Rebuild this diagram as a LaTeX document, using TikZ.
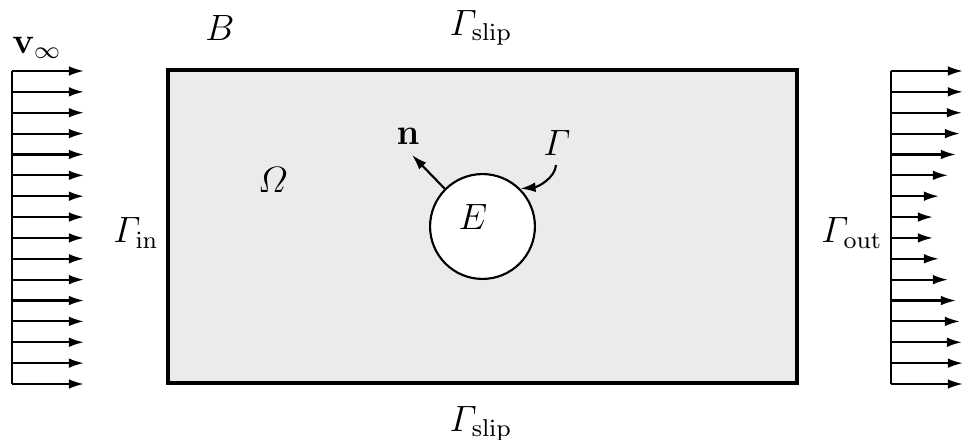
\documentclass[tikz,border=0pt]{standalone}
\usepackage{amsmath}
\usetikzlibrary{arrows.meta}
\definecolor{domgray}{RGB}{235,235,235}
\begin{document}
\begin{tikzpicture}[x=0.328pt,y=-0.328pt,
  flow/.style={-{Latex[length=5pt,width=3.2pt]}, line width=0.7pt},
  lbl/.style={inner sep=0pt, font=\large}]
\useasboundingbox (0,0) rectangle (966,440);
% domain
\coordinate (dNW) at (168,70);
\coordinate (dSE) at (797,383);
\draw[line width=1pt, fill=domgray] (dNW) rectangle (dSE);
% obstacle
\node (E) [circle, draw, line width=0.7pt, fill=white, minimum size=34.4pt, inner sep=0pt] at (482.5,226.5) {};
\node (Elbl) [lbl] at (473,217.5) {$E$};
% normal
\coordinate (ntip) at (412,155);
\draw[flow] (E.135) -- (ntip);
\node (nlbl) [lbl] at (408,136) {$\mathbf{n}$};
% Gamma
\node (Glbl) [lbl] at (557,143) {$\varGamma$};
\coordinate (gstart) at (556,165);
\draw[flow] (gstart) .. controls (555,178) and (538,187) .. (E.45);
% labels
\node (Blbl) [lbl] at (220,28) {$B$};
\node (Om) [lbl] at (273,180) {$\varOmega$};
\node (slipT) [lbl] at (481,28) {$\varGamma_{\mathrm{slip}}$};
\node (slipB) [lbl] at (481,424) {$\varGamma_{\mathrm{slip}}$};
\node (gin) [lbl] at (136,233) {$\varGamma_{\mathrm{in}}$};
\node (gout) [lbl] at (852,233) {$\varGamma_{\mathrm{out}}$};
\node (vinf) [lbl] at (37,48) {$\mathbf{v}_\infty$};
% inflow profile
\coordinate (inT) at (12,71);
\coordinate (inB) at (12,384);
\draw[line width=0.7pt] (inT) -- (inB);
\foreach \k in {0,...,15}{
  \coordinate (ia\k) at (12,71+20.867*\k);
  \draw[flow] (ia\k) -- ++(72,0);
}
% outflow profile
\coordinate (outT) at (891,71);
\coordinate (outB) at (891,384);
\draw[line width=0.7pt] (outT) -- (outB);
\foreach \L [count=\k from 0] in {72,72,71,69,65,57,48,42,42,48,57,65,69,71,72,72}{
  \coordinate (oa\k) at (891,71+20.867*\k);
  \draw[flow] (oa\k) -- ++(\L,0);
}
\end{tikzpicture}
\end{document}
